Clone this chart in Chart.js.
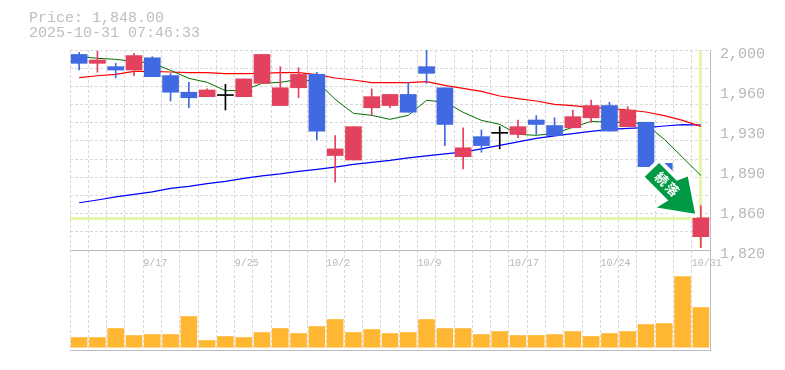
<!DOCTYPE html>
<html lang="ja">
<head>
<meta charset="utf-8">
<title>Price chart</title>
<script src="https://cdn.jsdelivr.net/npm/chart.js@4/dist/chart.umd.js"></script>
<style>
    html, body { margin: 0; padding: 0; background: #fff; }
    #wrap { position: relative; width: 785px; height: 370px; overflow: hidden; }
    #head { position: absolute; left: 29px; top: 11px; font: 15px/15px "Liberation Mono", monospace; color: #bebebe; white-space: pre; }
</style>
</head>
<body>
<div id="wrap">
    <div id="head">Price: 1,848.00
2025-10-31 07:46:33</div>
    <canvas id="chart" width="785" height="370"></canvas>
</div>
<script>
// Données
const dates = ["9/10","9/11","9/12","9/16","9/17","9/18","9/19","9/22","9/24","9/25","9/26","9/29","9/30","10/1","10/2","10/3","10/6","10/7","10/8","10/9","10/10","10/14","10/15","10/16","10/17","10/20","10/21","10/22","10/23","10/24","10/27","10/28","10/29","10/30","10/31"];
const dateLabels = ["9/17","9/25","10/2","10/9","10/17","10/24","10/31"];

const opens  = [1995,1987,1984,1981,1992,1976,1961,1957,1958,1957,1969,1949,1965,1977,1904,1900,1947,1949,1959,1984,1965,1903,1921,1924,1923,1936,1931,1929,1938,1949,1930,1934,1897,1877,1831];
const closes = [1987,1990,1981,1994,1975,1961,1956,1963,1958,1973,1995,1965,1977,1926,1910,1930,1957,1959,1943,1978,1932,1911,1913,1924,1930,1932,1922,1939,1949,1926,1945,1894,1878,1864,1848];
const highs  = [1997,1998,1987,1996,1993,1978,1970,1964,1968,1973,1995,1984,1983,1979,1922,1930,1964,1959,1970,1999,1965,1929,1927,1930,1936,1940,1938,1945,1954,1952,1948,1934,1897,1877,1859];
const lows   = [1981,1979,1974,1976,1975,1953,1947,1957,1945,1957,1969,1949,1956,1918,1880,1900,1940,1947,1943,1969,1913,1892,1907,1910,1920,1923,1922,1929,1934,1926,1930,1894,1878,1864,1821];

const maShort = [1993.3,1991.5,1990.6,1988.8,1987,1980.7,1973.5,1969.9,1962.4,1962.7,1969,1969.9,1972.6,1970.8,1954.6,1942,1940.2,1936.6,1940.2,1953.7,1952.2,1942.9,1935.7,1932.1,1923.1,1922.2,1924,1929.4,1934.8,1933.9,1933.9,1932.1,1918.6,1902.4,1886.1];
const maMid   = [1974.2,1975.8,1977.1,1979.8,1979.8,1979.2,1978.7,1978.7,1977.8,1977.8,1978,1978.7,1978.7,1976.9,1973.8,1972,1969.7,1969.7,1969.7,1970.6,1967.2,1964.5,1961.8,1957.6,1955.2,1953.1,1950.1,1948.9,1947.1,1946.5,1945,1943.2,1939.9,1935.7,1930.3];
const maLong  = [1861.5,1864,1866.8,1869,1871.3,1874.4,1876.2,1878.7,1880.7,1883.4,1885.7,1887.5,1889.7,1891.5,1893.6,1896,1897.8,1899.6,1901.9,1903.7,1905.5,1907.1,1910,1913.2,1916.3,1919.5,1921.7,1923.7,1925.8,1927.6,1928.5,1929.1,1930.6,1931.8,1931.5];

const volumes = [9.7,9.7,18.7,11.7,12.7,12.7,30.7,6.7,10.7,9.7,14.7,18.7,13.7,20.7,27.7,14.7,17.7,13.7,14.7,27.7,18.7,18.7,12.7,15.7,11.7,11.7,12.7,15.7,10.7,13.7,15.7,22.7,23.7,70.7,39.7];

const priceTicks  = [1999,1963,1927,1891,1855,1819];
const priceLabels = ["2,000","1,960","1,930","1,890","1,860","1,820"];
const lastPrice = 1848;
const badgeText = "続落";

const PRICE_MIN = 1819;
const PRICE_MAX = 1999;
const VOL_MIN = -2.8;
const VOL_MAX = 97.2;
const GRID_STEPS = 11;

const C_UP = "#e3425f";
const C_DOWN = "#4169e1";
const C_FLAT = "#000000";
const C_GRID = "#d8d8d8";
const C_AXIS = "#bdbdbd";
const C_TEXT = "#b8b8b8";
const C_LAST = "#e4f6ac";

const gridValues = [];
for (let k = 0; k <= GRID_STEPS; k++) {
    gridValues.push(PRICE_MIN + k * (PRICE_MAX - PRICE_MIN) / GRID_STEPS);
}

const candleColors = opens.map((o, i) => (closes[i] > o ? C_UP : closes[i] < o ? C_DOWN : C_FLAT));

// Lignes du dernier cours, sous les bougies
const lastPriceLines = {
    id: "lastPriceLines",
    beforeDatasetsDraw(chart) {
        const { ctx, chartArea, scales } = chart;
        const last = dates.length - 1;
        const x = scales.x.getPixelForValue(last);
        const y = scales.yPrice.getPixelForValue(lastPrice);
        ctx.save();
        ctx.fillStyle = C_LAST;
        ctx.fillRect(chartArea.left, Math.round(y) - 1, chartArea.width, 3);
        const top = scales.yPrice.getPixelForValue(PRICE_MAX);
        const bottom = scales.yPrice.getPixelForValue(lows[last]);
        ctx.fillRect(Math.round(x) - 2, top, 3, bottom - top);
        ctx.restore();
    },
};

// Flèche verte avec liseré blanc, placée par rapport à la dernière bougie
const ARROW_SHAPE = [[-36,-50.7],[-18.3,-33],[-7.3,-37.3],[0,0],[-38.3,-6.3],[-26.7,-13.3],[-50.3,-37]];
const trendBadge = {
    id: "trendBadge",
    afterDatasetsDraw(chart) {
        const { ctx, scales } = chart;
        const tipX = scales.x.getPixelForValue(dates.length - 1) - 5.8;
        const tipY = scales.yPrice.getPixelForValue(lastPrice) - 4;
        ctx.save();
        ctx.translate(tipX, tipY);
        ctx.beginPath();
        ARROW_SHAPE.forEach(([x, y], i) => (i ? ctx.lineTo(x, y) : ctx.moveTo(x, y)));
        ctx.closePath();
        ctx.strokeStyle = "#ffffff";
        ctx.lineWidth = 8;
        ctx.lineJoin = "round";
        ctx.stroke();
        ctx.fillStyle = "#009944";
        ctx.fill();
        ctx.fillStyle = "#ffffff";
        ctx.font = 'bold 13px "Noto Sans CJK JP", sans-serif';
        ctx.textAlign = "center";
        ctx.textBaseline = "middle";
        [[-33.3, -35], [-22.7, -24.3]].forEach(([x, y], i) => {
            ctx.save();
            ctx.translate(x, y);
            ctx.rotate(Math.PI / 4);
            ctx.fillText(badgeText[i], 0, 0);
            ctx.restore();
        });
        ctx.restore();
    },
};

new Chart(document.getElementById("chart"), {
    data: {
        labels: dates,
        datasets: [
            { type: "line", data: maShort, yAxisID: "yPrice", borderColor: "#007000", borderWidth: 1, pointRadius: 0, tension: 0, order: 5 },
            { type: "line", data: maMid, yAxisID: "yPrice", borderColor: "#ff0000", borderWidth: 1.2, pointRadius: 0, tension: 0, order: 5 },
            { type: "line", data: maLong, yAxisID: "yPrice", borderColor: "#0000ff", borderWidth: 1.2, pointRadius: 0, tension: 0, order: 5 },
            { type: "bar", data: lows.map((l, i) => [l, highs[i]]), yAxisID: "yPrice", backgroundColor: candleColors, barThickness: 1, grouped: false, order: 4 },
            { type: "bar", data: opens.map((o, i) => [o, closes[i]]), yAxisID: "yPrice", backgroundColor: candleColors, barThickness: 16, minBarLength: 1, grouped: false, order: 3 },
            { type: "bar", data: volumes, yAxisID: "yVol", backgroundColor: "#ffb733", barThickness: 16, grouped: false, order: 6 },
        ],
    },
    options: {
        responsive: false,
        animation: false,
        events: [],
        layout: { padding: { left: 70, top: 50, bottom: 20, right: 0 } },
        plugins: { legend: { display: false }, tooltip: { enabled: false } },
        scales: {
            x: {
                type: "category",
                position: { yPrice: PRICE_MIN },
                offset: true,
                grid: { color: C_GRID, offset: true, tickLength: 0 },
                border: { color: C_AXIS, dash: [3, 2] },
                ticks: {
                    autoSkip: false,
                    maxRotation: 0,
                    align: "start",
                    labelOffset: -9,
                    padding: 7,
                    color: C_TEXT,
                    font: { family: '"Liberation Mono", monospace', size: 10 },
                    callback(value) {
                        const label = dates[value];
                        return dateLabels.includes(label) ? label : "";
                    },
                },
            },
            yPrice: {
                type: "linear",
                position: "right",
                stack: "panels",
                stackWeight: 2,
                min: PRICE_MIN,
                max: PRICE_MAX,
                afterFit(scale) { scale.width = 75; },
                afterBuildTicks(scale) {
                    scale.ticks = gridValues.concat(priceTicks).map(value => ({ value }));
                },
                grid: {
                    tickLength: 0,
                    color: ctx => (ctx.index < gridValues.length ? C_GRID : "transparent"),
                },
                border: { color: C_AXIS, dash: [3, 2] },
                ticks: {
                    autoSkip: false,
                    padding: 10,
                    labelOffset: 4.5,
                    color: C_TEXT,
                    font: { family: '"Liberation Mono", monospace', size: 15 },
                    callback(value, index) {
                        return index < gridValues.length ? "" : priceLabels[index - gridValues.length];
                    },
                },
            },
            yVol: {
                type: "linear",
                position: "right",
                stack: "panels",
                stackWeight: 1,
                min: VOL_MIN,
                max: VOL_MAX,
                afterFit(scale) { scale.width = 75; },
                afterBuildTicks(scale) { scale.ticks = [{ value: VOL_MIN }]; },
                grid: { color: C_AXIS, tickLength: 0 },
                border: { color: C_AXIS },
                ticks: { display: false },
            },
        },
    },
    plugins: [lastPriceLines, trendBadge],
});
</script>
</body>
</html>
